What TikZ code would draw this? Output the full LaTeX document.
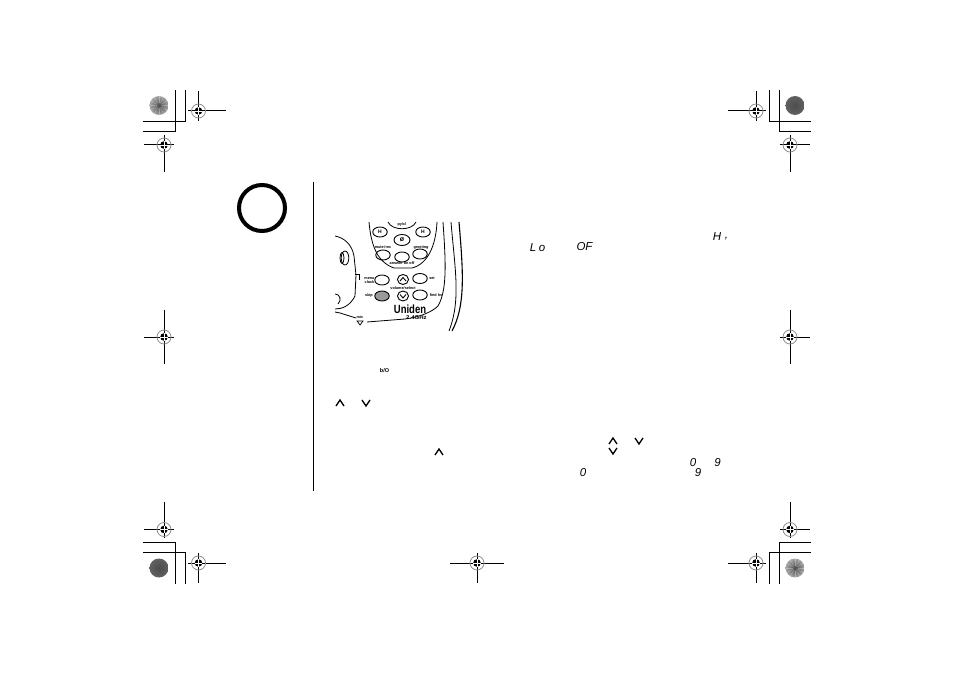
\documentclass[tikz,border=0pt]{standalone}
\usepackage{fontspec}
\setmainfont{Liberation Sans}
\usetikzlibrary{calc}
\usetikzlibrary{shapes.geometric}
\tikzset{
  cropline/.style={line width=1pt},
  lcdtext/.style={font=\fontsize{11.5}{11}\selectfont\itshape,inner sep=0pt},
  keytext/.style={font=\fontsize{3.8}{4}\bfseries\selectfont,inner sep=0pt,align=center},
  keyoval/.style={draw,line width=0.9pt,ellipse,minimum width=14.5pt,minimum height=10pt,inner sep=0pt},
  chevron/.style={line width=1.3pt,line join=miter},
  phoneline/.style={line width=0.8pt},
}
\newcommand{\regmark}[6]{%
  \draw[cropline] (#3,#2) -- (#4,#2);
  \draw[cropline] (#1,#5) -- (#1,#6);
  \draw[black!45,line width=0.8pt] (#1,#2) circle (7);
  \fill (#1,#2) circle (3.8);
  \draw[white,line width=0.6pt] (#1-3.8,#2) -- (#1+3.8,#2) (#1,#2-3.8) -- (#1,#2+3.8);
}
\newcommand{\chevup}[2]{\draw[chevron] (#1-4,#2+3) -- (#1,#2-3) -- (#1+4,#2+3);}
\newcommand{\chevdown}[2]{\draw[chevron] (#1-4,#2-3) -- (#1,#2+3) -- (#1+4,#2-3);}
\begin{document}
\begin{tikzpicture}[x=1pt,y=-1pt]
  \useasboundingbox (0,0) rectangle (954,674);
  % crop corners
  \draw[cropline] (143,131.5) -- (175,131.5) -- (175,90);
  \draw[cropline] (143,122) -- (185,122) -- (185,90);
  \draw[cropline] (811,122) -- (769,122) -- (769,90);
  \draw[cropline] (811,131.5) -- (779.5,131.5) -- (779.5,90);
  \draw[cropline] (143,542) -- (175,542) -- (175,584);
  \draw[cropline] (143,552.5) -- (185,552.5) -- (185,584);
  \draw[cropline] (811,542) -- (779.5,542) -- (779.5,584);
  \draw[cropline] (811,552.5) -- (769,552.5) -- (769,584);
  % registration marks
  \regmark{198.5}{111}{188}{226}{91}{121}
  \regmark{164}{145}{144}{174}{135}{172}
  \regmark{756}{111}{728}{766}{91}{121}
  \regmark{790}{145}{780}{810}{135}{172}
  \regmark{164}{337}{144}{174}{310}{364}
  \regmark{790}{337}{780}{810}{310}{364}
  \regmark{164}{529.5}{144}{174}{502}{538}
  \regmark{198.5}{563}{188}{226}{553}{583}
  \regmark{477}{563}{450}{504}{553}{583}
  \regmark{756}{563}{728}{766}{553}{583}
  \regmark{790}{529.5}{780}{810}{502}{538}
  % rosettes
  \shade[inner color=black!70,outer color=black!35] (159,105.5) circle (9.5);
  \shade[inner color=black!70,outer color=black!35] (795,568) circle (9.5);
  \shade[inner color=black!70,outer color=black!62] (795,105.5) circle (9.5);
  \shade[inner color=black!70,outer color=black!62] (159,568) circle (9.5);
  \foreach \a in {0,30,...,330} {
    \draw[white,opacity=0.3,line width=0.5pt] (159,105.5) ++(\a:2.5) -- ++(\a:7);
    \draw[white,opacity=0.3,line width=0.5pt] (795,568) ++(\a:2.5) -- ++(\a:7);
  }
  % tab and rule
  \draw[line width=4pt] (262,208) circle (23);
  \draw[line width=0.9pt] (313,182) -- (313,491);
  % phone
  \begin{scope}
    \clip (335,222) rectangle (470,332);
    \draw[phoneline] (369,222) .. controls (371,245) and (377,262) .. (394,268) -- (412,268) .. controls (428,264) and (436,245) .. (437,222);
    \draw[phoneline] (443,222) .. controls (446,265) and (447,290) .. (438,306) .. controls (432,312) and (420,317) .. (405,319) -- (367,322);
    \draw[phoneline] (451,222) .. controls (455,270) and (461,300) .. (449,331);
    \draw[line width=1.1pt] (459,222) .. controls (463,270) and (466,305) .. (452,331);
    \draw[phoneline] (335,236) .. controls (345,238) and (352,245) .. (354,256) -- (356,275) -- (355,296) .. controls (350,306) and (342,309) .. (335,309);
    \draw[phoneline] (335,312) -- (340,313) -- (356,318);
    \draw[phoneline] (355,274) -- (359,274) -- (359,280);
    \draw[phoneline] (345,258) ellipse (3.8 and 7);
    \draw[phoneline] (342,258) ellipse (2 and 5.5);
    \draw[phoneline] (335,294) .. controls (340,294) and (342,300) .. (338,304);
    \draw[phoneline] (388,222) .. controls (392,231) and (412,231) .. (416,222);
    \node[keyoval] (chanback) at (380,232) {};
    \node[keyoval] (chanfwd) at (423,232) {};
    \node[keyoval,minimum width=16pt,minimum height=11pt] (deletekey) at (402,240) {};
    \node[keyoval] (mutekey) at (383,255) {};
    \node[keyoval] (answerkey) at (402,257) {};
    \node[keyoval] (greetkey) at (420,254) {};
    \node[keyoval] (menukey) at (382,280) {};
    \node[keyoval,minimum width=11pt] (upkey) at (403,279.5) {};
    \node[keyoval] (setkey) at (420,278.5) {};
    \node[keyoval,fill=black!40] (skipkey) at (382,296) {};
    \node[keyoval,minimum width=11pt] (downkey) at (403,296) {};
    \node[keyoval] (findkey) at (420,295) {};
    \node[keytext] (pgtext) at (402,224.5) {py/cl};
    \node[keytext,font=\fontsize{5}{5}\bfseries\selectfont] at (chanback) {H};
    \node[keytext,font=\fontsize{5}{5}\bfseries\selectfont] at (chanfwd) {H};
    \node[keytext,font=\fontsize{7}{6}\bfseries\selectfont] at (deletekey) {ø};
    \node[keytext] (mutetext) at (383,247.5) {mute\,/rec};
    \node[keytext] (greettext) at (421,247.5) {greeting};
    \node[keytext] (answertext) at (402,263.5) {answer on off};
    \node[keytext] (menutext) at (369.5,280) {menu\\clock};
    \node[keytext] (voltext) at (403,288) {volume/select};
    \node[keytext] (settext) at (432,278) {set};
    \node[keytext] (skiptext) at (369,296) {skip};
    \node[keytext] (findtext) at (436,295) {find hs};
    \node[keytext] (mictext) at (360,317) {mic};
    \node[inner sep=0pt,yscale=1.25,font=\fontsize{9.5}{9}\bfseries\selectfont] (brandtext) at (410,309) {Uniden};
    \node[inner sep=0pt,xscale=1.1,font=\fontsize{5.5}{6}\bfseries\selectfont] (bandtext) at (416.5,317.5) {2.4GHz};
    \draw[line width=0.7pt] (357,321) -- (360,325) -- (363,321) -- cycle;
    \begin{scope}[chevron/.style={line width=0.9pt}]
      \draw[chevron] (400,281) -- (403,277.5) -- (406,281);
      \draw[chevron] (400,294.5) -- (403,298) -- (406,294.5);
    \end{scope}
  \end{scope}
  % icons in the running text
  \node[inner sep=0pt,font=\fontsize{5.5}{5}\bfseries\selectfont] (playkey) at (384.5,371) {b/O};
  \chevup{340}{403}
  \chevdown{366}{403}
  \chevup{439}{452}
  \chevup{613}{441}
  \chevdown{613}{451}
  \chevdown{639}{441}
  \node[lcdtext] (hiH) at (717,236.5) {H};
  \node[lcdtext] (hiI) at (726.5,239) {,};
  \node[lcdtext] (loL) at (533,247.5) {L};
  \node[lcdtext] (loO) at (542,248.5) {o};
  \node[lcdtext] (offtext) at (584.5,247) {OF};
  \node[lcdtext] (zeroA) at (693,463) {0};
  \node[lcdtext] (nineA) at (717.5,463) {9};
  \node[lcdtext] (zeroB) at (583,473) {0};
  \node[lcdtext] (nineB) at (698,473) {9};
\end{tikzpicture}
\end{document}
